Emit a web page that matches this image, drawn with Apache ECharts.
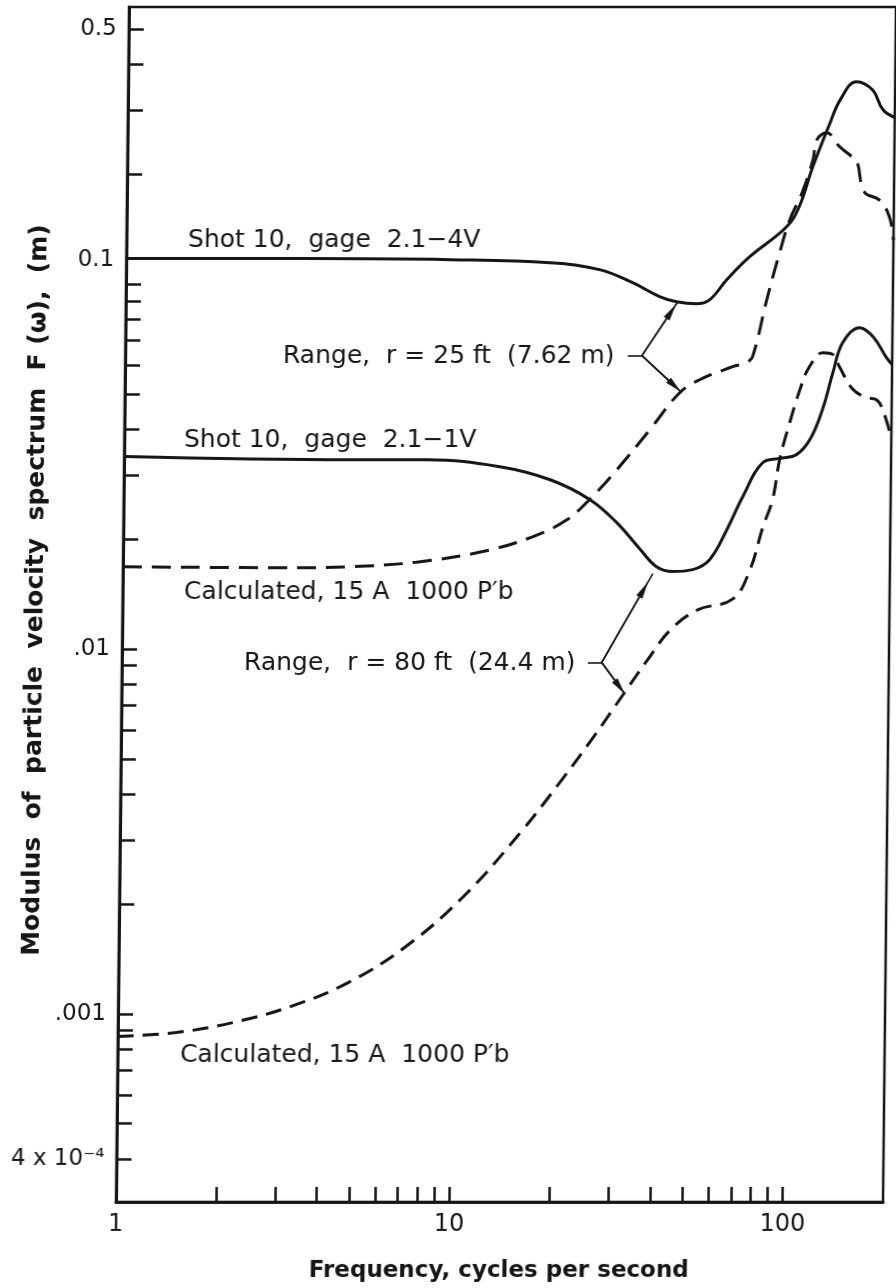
<!DOCTYPE html>
<html>
<head>
<meta charset="utf-8">
<script src="https://cdn.jsdelivr.net/npm/echarts@6/dist/echarts.min.js"></script>
<style>
  html, body { margin: 0; padding: 0; background: #fff; }
  #chart { width: 896px; height: 1288px; }
</style>
</head>
<body>
<div id="chart"></div>
<script>
// values: frequency in cycles per second, modulus F(w) in metres

// Shot 10, gage 2.1-4V (measured, r = 25 ft)
const freqShot4V = [1, 3.3, 9.4, 18.7, 26.3, 33.1, 39.9, 44.9, 51.5, 56.4, 63.4, 74.2, 95.5, 104, 114, 128, 137, 153, 171, 184, 200];
const ampShot4V = [0.1175, 0.1175, 0.1167, 0.1145, 0.1096, 0.1009, 0.0925, 0.0895, 0.0884, 0.0906, 0.1028, 0.1189, 0.1436, 0.163, 0.210, 0.277, 0.320, 0.359, 0.341, 0.301, 0.286];

// Calculated, 15 A 1000 P'b (r = 25 ft)
const freqCalc25 = [1, 3.4, 4.8, 7.6, 12.0, 16.9, 21.4, 25.0, 30.1, 37.7, 46.2, 53.0, 66.5, 73.2, 76.3, 83.7, 91.2, 97.5, 106, 114, 117, 125, 137, 147, 154, 163, 181, 194, 200];
const ampCalc25 = [0.0168, 0.0167, 0.0168, 0.0173, 0.0185, 0.0203, 0.0226, 0.0257, 0.0310, 0.0399, 0.0504, 0.0547, 0.0594, 0.0610, 0.0634, 0.0906, 0.122, 0.150, 0.178, 0.219, 0.249, 0.260, 0.238, 0.226, 0.219, 0.179, 0.170, 0.153, 0.132];

// Shot 10, gage 2.1-1V (measured, r = 80 ft)
const freqShot1V = [1, 4.8, 8.1, 13.4, 19.0, 25.0, 30.2, 35.5, 39.9, 44.6, 51.2, 57.6, 64.6, 71.9, 82.4, 92.6, 104, 114, 124, 133, 142, 159, 175, 192, 200];
const ampShot1V = [0.0337, 0.0330, 0.0330, 0.0316, 0.0291, 0.0257, 0.0222, 0.0188, 0.0168, 0.0163, 0.0165, 0.0176, 0.0212, 0.0261, 0.0324, 0.0333, 0.0341, 0.0375, 0.0453, 0.0573, 0.0692, 0.0760, 0.0718, 0.0630, 0.0602];

// Calculated, 15 A 1000 P'b (r = 80 ft)
const freqCalc80 = [1, 1.5, 2.23, 3.32, 4.91, 7.27, 10.8, 15.9, 20.8, 26.2, 32.3, 37.8, 44.2, 53.2, 67.6, 75.9, 82.8, 88.5, 92.6, 99.0, 106, 113, 124, 133, 139, 153, 168, 180, 188, 200];
const ampCalc80 = [0.000867, 0.000889, 0.000948, 0.00105, 0.00122, 0.00153, 0.0021, 0.00314, 0.00431, 0.00575, 0.0076, 0.00935, 0.0113, 0.0128, 0.0137, 0.0164, 0.0215, 0.0257, 0.0330, 0.0417, 0.0514, 0.0594, 0.0649, 0.0641, 0.0594, 0.0514, 0.0489, 0.0482, 0.0453, 0.0379];

// axes
const xRange = [1, 200];
const yRange = [3.05e-4, 0.575];
const xTicks = [2, 3, 4, 5, 6, 7, 8, 9, 10, 20, 30, 40, 50, 60, 70, 80, 90, 100];
const xTickLabels = [1, 10, 100];
const yTicks = [4e-4, 5e-4, 6e-4, 7e-4, 8e-4, 9e-4, 0.001, 0.002, 0.003, 0.004, 0.005, 0.006, 0.007, 0.008, 0.009,
  0.01, 0.02, 0.03, 0.04, 0.05, 0.06, 0.07, 0.08, 0.09, 0.1, 0.2, 0.3, 0.4, 0.5];
const yTickLabels = [0.5, 0.1, 0.01, 0.001, 0.0004];
const yTickTexts = ['0.5', '0.1', '.01', '.001', '4 x 10\u207B\u2074'];

// "Range" brackets: [freq, amp] of bracket start, branch point and the two arrow tips
const range25Bracket = [[32.2, 0.0637], [35.5, 0.0637]];
const range25Tips = [[45.3, 0.0895], [46.9, 0.0504]];
const range80Bracket = [[25.0, 0.00918], [27.5, 0.00918]];
const range80Tips = [[38.9, 0.0161], [32.1, 0.0076]];

const FONT = 'DejaVu Sans';
const INK = '#151515';
const SKEW = 0.0109;   // the scan leans: vertical lines drift left going down
const BASE_Y = 1202;   // x axis row, kept fixed by the lean

let chartDom = document.getElementById('chart');
chartDom.style.transformOrigin = '0 ' + BASE_Y + 'px';
chartDom.style.transform = 'skewX(' + (-Math.atan(SKEW) * 180 / Math.PI) + 'deg)';

const lg = v => Math.log10(v);
const toPts = (fs, as) => fs.map((f, i) => [lg(f), lg(as[i])]);
const P = p => [lg(p[0]), lg(p[1])];
// put text at a reference-image position, compensating for the lean
const sx = (x, y) => x - SKEW * (BASE_Y - y);

function bracketLines(bracket, tips) {
  let lines = [[{coord: P(bracket[0]), symbol: 'none'}, {coord: P(bracket[1]), symbol: 'none'}]];
  let b = P(bracket[1]);
  tips.forEach(t => {
    let tp = P(t);
    let head = [b[0] + 0.82 * (tp[0] - b[0]), b[1] + 0.82 * (tp[1] - b[1])];
    lines.push([{coord: b, symbol: 'none'}, {coord: tp, symbol: 'none'}]);
    lines.push([{coord: b, symbol: 'none'}, {coord: head, symbol: 'triangle', symbolSize: [7, 17]}]);
  });
  return lines;
}

function markLineOf(bracket, tips) {
  return {
    silent: true,
    symbol: 'none',
    label: {show: false},
    lineStyle: {color: INK, width: 1.6, type: 'solid'},
    itemStyle: {color: INK},
    emphasis: {disabled: true},
    data: bracketLines(bracket, tips)
  };
}

function annot(text, x, y) {
  return {
    type: 'text', x: sx(x, y), y: y, z: 100,
    style: {text: text, font: '25px "' + FONT + '"', fill: INK, verticalAlign: 'middle', align: 'left'}
  };
}

let myChart = echarts.init(chartDom, null, {renderer: 'canvas'});
myChart.setOption({
  animation: false,
  backgroundColor: '#fff',
  grid: {left: 116, right: 13, top: 7, bottom: 86, show: true, borderColor: INK, borderWidth: 2.5},
  xAxis: {
    type: 'value',
    min: lg(xRange[0]),
    max: lg(xRange[1]),
    axisLine: {show: true, lineStyle: {color: INK, width: 3}},
    axisTick: {show: true, inside: true, length: 15, lineStyle: {color: INK, width: 2.5}, customValues: xTicks.map(lg)},
    axisLabel: {
      customValues: xTickLabels.map(lg),
      showMinLabel: true,
      formatter: v => String(Math.round(Math.pow(10, v))),
      fontFamily: FONT, fontSize: 24, color: INK, margin: 11
    },
    splitLine: {show: false},
    name: 'Frequency, cycles per second',
    nameLocation: 'middle',
    nameGap: 58,
    nameTextStyle: {fontFamily: FONT, fontSize: 23, fontWeight: 'bold', color: INK}
  },
  yAxis: {
    type: 'value',
    min: lg(yRange[0]),
    max: lg(yRange[1]),
    axisLine: {show: true, lineStyle: {color: INK, width: 3}},
    axisTick: {show: true, inside: true, length: 15, lineStyle: {color: INK, width: 2.5}, customValues: yTicks.map(lg)},
    axisLabel: {
      customValues: yTickLabels.map(lg),
      showMinLabel: true, showMaxLabel: true,
      formatter: v => {
        let i = yTickLabels.findIndex(t => Math.abs(lg(t) - v) < 1e-6);
        // the original letters "0.1" level with the flat curve, above its tick
        return i === 1 ? '{up|' + yTickTexts[i] + '}' : yTickTexts[i];
      },
      rich: {up: {fontFamily: FONT, fontSize: 23, color: INK, padding: [0, 0, 48, 0]}},
      fontFamily: FONT, fontSize: 23, color: INK, margin: 12
    },
    splitLine: {show: false}
  },
  graphic: [
    {
      type: 'text', x: sx(36, 590), y: 590, rotation: Math.PI / 2, z: 100,
      style: {text: 'Modulus  of  particle  velocity  spectrum  F (\u03C9),  (m)', font: 'bold 25px "' + FONT + '"',
        fill: INK, align: 'center', verticalAlign: 'middle'}
    },
    annot('Shot 10,  gage  2.1\u22124V', 188, 240),
    annot('Range,  r = 25 ft  (7.62 m)', 283, 356),
    annot('Shot 10,  gage  2.1\u22121V', 184, 440),
    annot('Calculated, 15 A  1000 P\u2032b', 184, 592),
    annot('Range,  r = 80 ft  (24.4 m)', 244, 663),
    annot('Calculated, 15 A  1000 P\u2032b', 180, 1055)
  ],
  series: [
    {
      name: 'Shot 10, gage 2.1-4V', type: 'line', data: toPts(freqShot4V, ampShot4V),
      smooth: 0.4, showSymbol: false, symbol: 'none',
      lineStyle: {color: INK, width: 3},
      markLine: markLineOf(range25Bracket, range25Tips)
    },
    {
      name: 'Calculated 25 ft', type: 'line', data: toPts(freqCalc25, ampCalc25),
      smooth: 0.4, showSymbol: false, symbol: 'none',
      lineStyle: {color: INK, width: 3, type: [19, 10]}
    },
    {
      name: 'Shot 10, gage 2.1-1V', type: 'line', data: toPts(freqShot1V, ampShot1V),
      smooth: 0.4, showSymbol: false, symbol: 'none',
      lineStyle: {color: INK, width: 3},
      markLine: markLineOf(range80Bracket, range80Tips)
    },
    {
      name: 'Calculated 80 ft', type: 'line', data: toPts(freqCalc80, ampCalc80),
      smooth: 0.4, showSymbol: false, symbol: 'none',
      lineStyle: {color: INK, width: 3, type: [16, 9]}
    }
  ]
});
</script>
</body>
</html>
